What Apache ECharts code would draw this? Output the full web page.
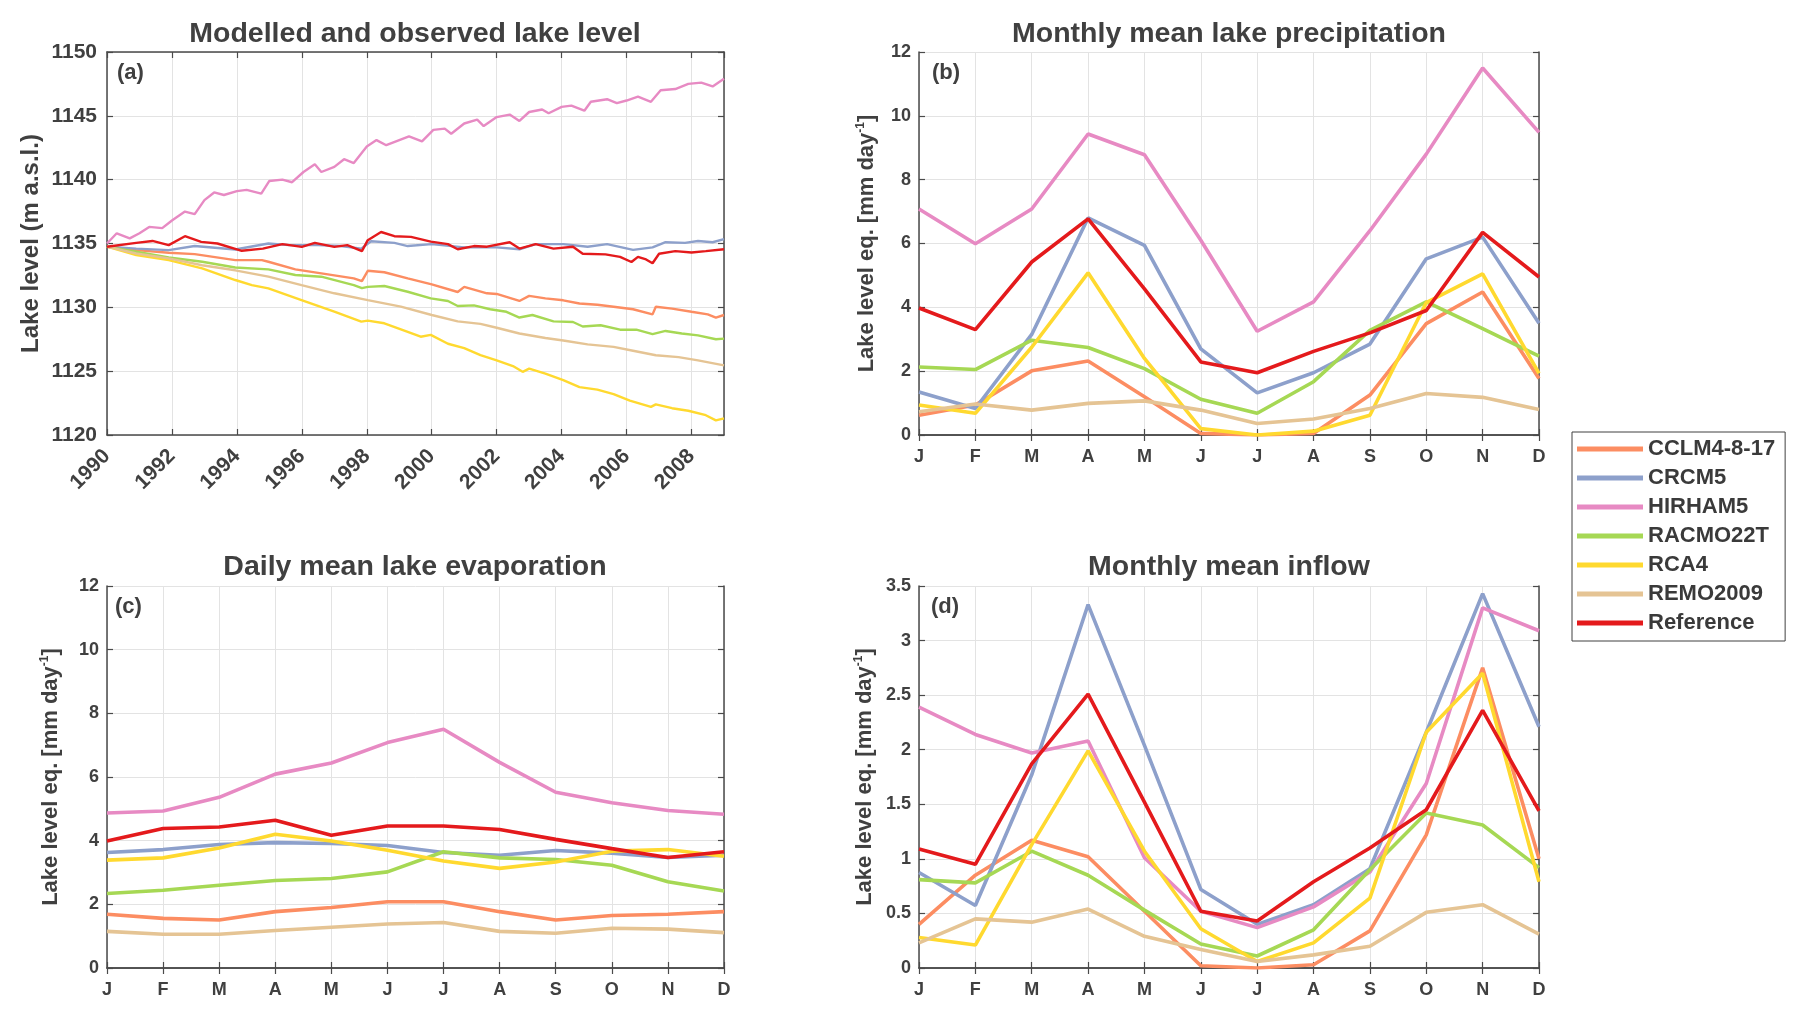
<!DOCTYPE html>
<html>
<head>
<meta charset="utf-8">
<script src="https://cdn.jsdelivr.net/npm/echarts@6/dist/echarts.min.js"></script>
<style>
html,body{margin:0;padding:0;background:#fff;}
#chart{width:1806px;height:1016px;}
</style>
</head>
<body>
<div id="chart"></div>
<script>
// ---------- DATA ----------
const months = ['J','F','M','A','M','J','J','A','S','O','N','D'];
const modelNames = ['CCLM4-8-17','CRCM5','HIRHAM5','RACMO22T','RCA4','REMO2009','Reference'];
const modelColors = ['#FC8D62','#8DA0CB','#E78AC3','#A6D854','#FFD92F','#E5C494','#E41A1C'];

// (a) lake level [year, m a.s.l.]
const levelCCLM = [[1990.0,1134.75],[1990.9,1134.48],[1991.9,1134.27],[1992.7,1134.17],[1993.95,1133.7],[1994.77,1133.7],[1994.97,1133.57],[1995.8,1132.97],[1996.6,1132.66],[1997.6,1132.27],[1997.85,1132.05],[1998.03,1132.86],[1998.54,1132.75],[1999.26,1132.27],[2000.0,1131.8],[2000.8,1131.2],[2001.0,1131.6],[2001.7,1131.1],[2002.0,1131.05],[2002.7,1130.5],[2003.0,1130.9],[2003.5,1130.7],[2004.05,1130.55],[2004.55,1130.3],[2005.1,1130.2],[2005.6,1130.05],[2006.2,1129.85],[2006.8,1129.45],[2006.9,1130.05],[2007.4,1129.9],[2008.0,1129.65],[2008.5,1129.45],[2008.75,1129.2],[2009.0,1129.4]];
const levelCRCM = [[1990.0,1134.75],[1990.9,1134.6],[1991.9,1134.48],[1992.7,1134.8],[1993.95,1134.53],[1994.97,1135.0],[1995.6,1134.87],[1996.5,1134.87],[1997.2,1134.8],[1997.83,1134.6],[1998.13,1135.18],[1998.85,1135.05],[1999.26,1134.8],[2000.0,1134.95],[2001.0,1134.7],[2002.0,1134.7],[2002.7,1134.55],[2003.2,1134.95],[2004.05,1134.95],[2004.8,1134.75],[2005.4,1134.95],[2006.2,1134.5],[2006.8,1134.7],[2007.2,1135.1],[2007.8,1135.05],[2008.2,1135.2],[2008.65,1135.1],[2009.0,1135.35]];
const levelHIRHAM = [[1990.0,1135.0],[1990.3,1135.8],[1990.7,1135.4],[1991.0,1135.8],[1991.3,1136.3],[1991.7,1136.2],[1992.0,1136.8],[1992.4,1137.5],[1992.7,1137.3],[1993.0,1138.4],[1993.3,1139.0],[1993.6,1138.8],[1994.0,1139.1],[1994.3,1139.2],[1994.75,1138.9],[1995.0,1139.9],[1995.4,1140.0],[1995.7,1139.8],[1996.05,1140.6],[1996.4,1141.2],[1996.6,1140.6],[1997.0,1141.0],[1997.3,1141.6],[1997.6,1141.3],[1998.0,1142.6],[1998.3,1143.1],[1998.6,1142.7],[1999.0,1143.1],[1999.3,1143.4],[1999.7,1143.0],[2000.05,1143.9],[2000.4,1144.0],[2000.6,1143.6],[2001.0,1144.4],[2001.4,1144.7],[2001.6,1144.2],[2002.0,1144.9],[2002.4,1145.1],[2002.7,1144.6],[2003.0,1145.3],[2003.4,1145.5],[2003.6,1145.2],[2004.0,1145.7],[2004.3,1145.8],[2004.7,1145.4],[2004.9,1146.1],[2005.4,1146.3],[2005.7,1146.0],[2006.0,1146.2],[2006.35,1146.5],[2006.75,1146.1],[2007.05,1147.0],[2007.5,1147.1],[2007.9,1147.5],[2008.3,1147.6],[2008.65,1147.3],[2009.0,1147.9]];
const levelRACMO = [[1990.0,1134.75],[1990.9,1134.35],[1991.9,1133.9],[1992.93,1133.57],[1993.95,1133.12],[1994.97,1132.97],[1995.8,1132.53],[1996.6,1132.4],[1997.6,1131.74],[1997.85,1131.5],[1998.03,1131.6],[1998.54,1131.67],[1999.26,1131.22],[1999.97,1130.7],[2000.5,1130.5],[2000.8,1130.1],[2001.3,1130.15],[2001.8,1129.85],[2002.3,1129.65],[2002.7,1129.2],[2003.1,1129.4],[2003.75,1128.9],[2004.35,1128.85],[2004.65,1128.5],[2005.2,1128.6],[2005.8,1128.25],[2006.3,1128.25],[2006.8,1127.9],[2007.2,1128.15],[2007.7,1127.95],[2008.2,1127.8],[2008.75,1127.5],[2009.0,1127.55]];
const levelRCA = [[1990.0,1134.75],[1990.9,1134.1],[1991.9,1133.7],[1992.93,1133.05],[1993.95,1132.14],[1994.46,1131.74],[1994.97,1131.48],[1995.99,1130.57],[1997.0,1129.66],[1997.83,1128.88],[1998.03,1128.96],[1998.54,1128.75],[1999.05,1128.28],[1999.66,1127.7],[1999.97,1127.84],[2000.5,1127.15],[2001.0,1126.8],[2001.5,1126.25],[2002.0,1125.85],[2002.5,1125.4],[2002.8,1124.95],[2003.0,1125.2],[2003.5,1124.8],[2004.05,1124.3],[2004.55,1123.75],[2005.1,1123.55],[2005.6,1123.2],[2006.1,1122.7],[2006.75,1122.2],[2006.9,1122.4],[2007.4,1122.1],[2007.9,1121.9],[2008.44,1121.55],[2008.75,1121.15],[2009.0,1121.3]];
const levelREMO = [[1990.0,1134.75],[1990.9,1134.22],[1991.9,1133.83],[1992.93,1133.3],[1993.95,1132.9],[1994.97,1132.4],[1995.99,1131.74],[1997.0,1131.1],[1998.03,1130.57],[1999.05,1130.05],[2000.0,1129.4],[2000.8,1128.9],[2001.5,1128.7],[2002.0,1128.4],[2002.7,1127.95],[2003.5,1127.6],[2004.05,1127.4],[2004.8,1127.1],[2005.6,1126.9],[2006.2,1126.6],[2006.9,1126.25],[2007.6,1126.1],[2008.2,1125.85],[2009.0,1125.45]];
const levelRef = [[1990.0,1134.75],[1990.9,1135.05],[1991.4,1135.2],[1991.9,1134.87],[1992.4,1135.57],[1992.9,1135.13],[1993.4,1135.0],[1994.15,1134.43],[1994.8,1134.6],[1995.4,1134.95],[1996.0,1134.74],[1996.4,1135.05],[1997.0,1134.74],[1997.4,1134.87],[1997.85,1134.4],[1998.03,1135.26],[1998.44,1135.9],[1998.85,1135.57],[1999.36,1135.52],[1999.97,1135.15],[2000.5,1134.95],[2000.8,1134.55],[2001.3,1134.8],[2001.7,1134.75],[2002.4,1135.1],[2002.7,1134.6],[2003.2,1134.95],[2003.75,1134.6],[2004.35,1134.75],[2004.65,1134.2],[2005.35,1134.15],[2005.8,1133.95],[2006.15,1133.55],[2006.35,1133.95],[2006.6,1133.75],[2006.8,1133.45],[2007.0,1134.2],[2007.5,1134.4],[2008.0,1134.3],[2008.44,1134.4],[2009.0,1134.55]];

// (b) monthly mean lake precipitation [mm/day]
const precipCCLM   = [0.62,0.94,2.01,2.32,1.20,0.05,0.00,0.05,1.25,3.49,4.48,1.77];
const precipCRCM   = [1.35,0.83,3.15,6.80,5.94,2.70,1.32,1.95,2.85,5.52,6.20,3.50];
const precipHIRHAM = [7.08,5.99,7.08,9.43,8.78,6.10,3.25,4.17,6.40,8.80,11.50,9.48];
const precipRACMO  = [2.13,2.05,2.97,2.74,2.08,1.12,0.68,1.67,3.28,4.17,3.33,2.47];
const precipRCA    = [0.94,0.68,2.75,5.08,2.40,0.20,0.00,0.12,0.62,4.15,5.05,1.93];
const precipREMO   = [0.73,0.97,0.78,0.99,1.07,0.78,0.36,0.50,0.83,1.30,1.18,0.80];
const precipRef    = [3.98,3.30,5.42,6.77,4.58,2.29,1.95,2.62,3.20,3.90,6.35,4.95];

// (c) daily mean lake evaporation [mm/day]
const evapCCLM   = [1.69,1.56,1.51,1.77,1.90,2.08,2.08,1.77,1.51,1.65,1.69,1.77];
const evapCRCM   = [3.63,3.72,3.88,3.94,3.91,3.85,3.63,3.54,3.69,3.61,3.47,3.54];
const evapHIRHAM = [4.87,4.93,5.36,6.09,6.44,7.08,7.50,6.46,5.52,5.19,4.95,4.83];
const evapRACMO  = [2.34,2.44,2.60,2.75,2.81,3.02,3.65,3.46,3.41,3.23,2.71,2.42];
const evapRCA    = [3.39,3.46,3.77,4.20,3.99,3.70,3.36,3.13,3.33,3.67,3.72,3.51];
const evapREMO   = [1.15,1.06,1.06,1.18,1.28,1.38,1.43,1.15,1.09,1.25,1.22,1.11];
const evapRef    = [3.99,4.38,4.43,4.64,4.17,4.46,4.46,4.35,4.04,3.75,3.47,3.65];

// (d) monthly mean inflow [mm/day]
const inflowCCLM   = [0.40,0.85,1.17,1.02,0.52,0.02,0.00,0.03,0.34,1.22,2.75,1.00];
const inflowCRCM   = [0.875,0.573,1.77,3.33,2.04,0.72,0.40,0.58,0.91,2.16,3.43,2.21];
const inflowHIRHAM = [2.39,2.14,1.97,2.08,1.01,0.52,0.37,0.56,0.88,1.69,3.30,3.09];
const inflowRACMO  = [0.81,0.78,1.07,0.85,0.53,0.22,0.11,0.35,0.90,1.42,1.31,0.92];
const inflowRCA    = [0.28,0.21,1.13,1.99,1.07,0.36,0.06,0.23,0.64,2.16,2.70,0.79];
const inflowREMO   = [0.23,0.45,0.42,0.54,0.29,0.17,0.06,0.12,0.20,0.51,0.58,0.31];
const inflowRef    = [1.09,0.95,1.87,2.51,1.52,0.52,0.43,0.79,1.10,1.45,2.36,1.44];

const yearTicks = [1990,1992,1994,1996,1998,2000,2002,2004,2006,2008];

// ---------- CHART ----------
const FONT = '"Liberation Sans", Arial, Helvetica, sans-serif';
const TXT = '#404040';
const AX = '#4a4a4a';
const GRIDC = '#e3e3e3';

const levelSets = [levelCCLM, levelCRCM, levelHIRHAM, levelRACMO, levelRCA, levelREMO, levelRef];
const precipSets = [precipCCLM, precipCRCM, precipHIRHAM, precipRACMO, precipRCA, precipREMO, precipRef];
const evapSets = [evapCCLM, evapCRCM, evapHIRHAM, evapRACMO, evapRCA, evapREMO, evapRef];
const inflowSets = [inflowCCLM, inflowCRCM, inflowHIRHAM, inflowRACMO, inflowRCA, inflowREMO, inflowRef];

const grids = [
  {left:107, top:52, width:617, height:383},
  {left:919, top:52, width:620, height:383},
  {left:107, top:586, width:617, height:382},
  {left:919, top:586, width:620, height:382}
];

function mirrorX(gi, type){
  const o = {gridIndex:gi, position:'top', type:type,
    axisLine:{show:true, lineStyle:{color:AX, width:1.5}},
    axisTick:{show:true, inside:true, length:6, lineStyle:{color:AX, width:1.2}},
    axisLabel:{show:false}, splitLine:{show:false}};
  if(type==='category'){ o.data = months; o.boundaryGap=false; }
  else { o.min=1990; o.max=2009; o.interval=2; }
  return o;
}
function mirrorY(gi, min, max, interval){
  return {gridIndex:gi, position:'right', type:'value', min:min, max:max, interval:interval,
    axisLine:{show:true, lineStyle:{color:AX, width:1.5}},
    axisTick:{show:true, inside:true, length:6, lineStyle:{color:AX, width:1.2}},
    axisLabel:{show:false}, splitLine:{show:false}};
}
function monthX(gi){
  return {gridIndex:gi, type:'category', data:months, boundaryGap:false, position:'bottom',
    axisLine:{show:true, onZero:false, lineStyle:{color:AX, width:1.5}},
    axisTick:{show:true, inside:true, length:6, alignWithLabel:true, lineStyle:{color:AX, width:1.2}},
    axisLabel:{color:TXT, fontSize:18, fontWeight:'bold', fontFamily:FONT, margin:13},
    splitLine:{show:true, lineStyle:{color:GRIDC, width:1}}};
}
const supName = 'Lake level eq. [mm day{sup|-1}]';
function valY(gi, min, max, interval, nameGap){
  return {gridIndex:gi, type:'value', min:min, max:max, interval:interval, position:'left',
    name:supName, nameLocation:'middle', nameGap:nameGap, nameRotate:90,
    nameTextStyle:{color:TXT, fontSize:22, fontWeight:'bold', fontFamily:FONT,
      rich:{sup:{fontSize:12, fontWeight:'bold', color:TXT, fontFamily:FONT, verticalAlign:'top', lineHeight:24}}},
    axisLine:{show:true, onZero:false, lineStyle:{color:AX, width:1.5}},
    axisTick:{show:true, inside:true, length:6, lineStyle:{color:AX, width:1.2}},
    axisLabel:{color:TXT, fontSize:18, fontWeight:'bold', fontFamily:FONT, margin:8,
      formatter:function(v){ return String(v); }},
    splitLine:{show:true, lineStyle:{color:GRIDC, width:1}}};
}

const xAxes = [
  {gridIndex:0, type:'value', min:1990, max:2009, interval:2, position:'bottom',
    axisLine:{show:true, onZero:false, lineStyle:{color:AX, width:1.5}},
    axisTick:{show:true, inside:true, length:6, lineStyle:{color:AX, width:1.2}},
    axisLabel:{color:TXT, fontSize:21, fontWeight:'bold', fontFamily:FONT, rotate:45, margin:18,
      showMaxLabel:false, formatter:function(v){ return yearTicks.indexOf(Math.round(v))>=0 ? String(Math.round(v)) : ''; }},
    splitLine:{show:true, lineStyle:{color:GRIDC, width:1}}},
  mirrorX(0,'value'),
  monthX(1), mirrorX(1,'category'),
  monthX(2), mirrorX(2,'category'),
  monthX(3), mirrorX(3,'category')
];
const yAxes = [
  {gridIndex:0, type:'value', min:1120, max:1150, interval:5, position:'left',
    name:'Lake level (m a.s.l.)', nameLocation:'middle', nameGap:64, nameRotate:90,
    nameTextStyle:{color:TXT, fontSize:24, fontWeight:'bold', fontFamily:FONT},
    axisLine:{show:true, onZero:false, lineStyle:{color:AX, width:1.5}},
    axisTick:{show:true, inside:true, length:6, lineStyle:{color:AX, width:1.2}},
    axisLabel:{color:TXT, fontSize:21, fontWeight:'bold', fontFamily:FONT, margin:10,
      formatter:function(v){ return String(Math.round(v)); }},
    splitLine:{show:true, lineStyle:{color:GRIDC, width:1}}},
  mirrorY(0,1120,1150,5),
  valY(1,0,12,2,40), mirrorY(1,0,12,2),
  valY(2,0,12,2,44), mirrorY(2,0,12,2),
  valY(3,0,3.5,0.5,42), mirrorY(3,0,3.5,0.5)
];

const series = [];
modelNames.forEach(function(name, i){
  series.push({name:name, type:'line', xAxisIndex:0, yAxisIndex:0, data:levelSets[i],
    showSymbol:false, symbol:'none', lineStyle:{width:2.4, color:modelColors[i]}, itemStyle:{color:modelColors[i]},
    z: name==='Reference' ? 3 : 2, silent:true});
});
[[precipSets,2,2],[evapSets,4,4],[inflowSets,6,6]].forEach(function(cfg){
  const sets = cfg[0];
  modelNames.forEach(function(name, i){
    series.push({name:name, type:'line', xAxisIndex:cfg[1], yAxisIndex:cfg[2], data:sets[i],
      showSymbol:false, symbol:'none', lineStyle:{width:3.6, color:modelColors[i]}, itemStyle:{color:modelColors[i]},
      z: name==='Reference' ? 3 : 2, silent:true});
  });
});

const titleStyle = {color:TXT, fontSize:28.5, fontWeight:'bold', fontFamily:FONT};
const option = {
  backgroundColor:'#ffffff',
  animation:false,
  textStyle:{fontFamily:FONT},
  title:[
    {text:'Modelled and observed lake level', left:415, top:20, textAlign:'center', padding:0, textStyle:titleStyle},
    {text:'Monthly mean lake precipitation', left:1229, top:20, textAlign:'center', padding:0, textStyle:titleStyle},
    {text:'Daily mean lake evaporation', left:415, top:553, textAlign:'center', padding:0, textStyle:titleStyle},
    {text:'Monthly mean inflow', left:1229, top:553, textAlign:'center', padding:0, textStyle:titleStyle}
  ],
  legend:{
    data:modelNames, orient:'vertical', left:1572, top:432,
    icon:'rect', itemWidth:66, itemHeight:5, itemGap:7,
    padding:[6,10,7,5], borderColor:'#404040', borderWidth:1, backgroundColor:'#fff',
    selectedMode:false,
    textStyle:{color:'#3a3a3a', fontSize:22, fontWeight:'bold', fontFamily:FONT}
  },
  grid:grids,
  xAxis:xAxes,
  yAxis:yAxes,
  graphic:[
    {type:'text', left:117, top:62, style:{text:'(a)', fill:TXT, font:'bold 22px '+FONT}},
    {type:'text', left:932, top:62, style:{text:'(b)', fill:TXT, font:'bold 22px '+FONT}},
    {type:'text', left:115, top:596, style:{text:'(c)', fill:TXT, font:'bold 22px '+FONT}},
    {type:'text', left:931, top:596, style:{text:'(d)', fill:TXT, font:'bold 22px '+FONT}}
  ],
  series:series
};
const chart = echarts.init(document.getElementById('chart'), null, {renderer:'canvas'});
chart.setOption(option);
</script>
</body>
</html>
